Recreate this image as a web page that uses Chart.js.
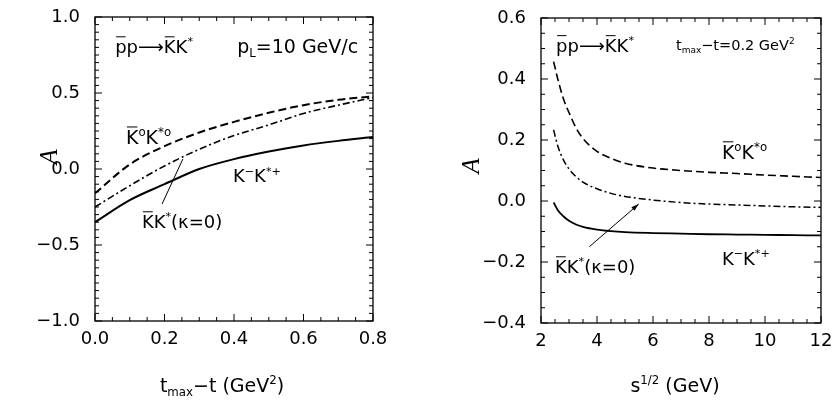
<!DOCTYPE html>
<html>
<head>
<meta charset="utf-8">
<script src="https://cdn.jsdelivr.net/npm/chart.js@4.4.1/dist/chart.umd.min.js"></script>
<style>
  html, body { margin: 0; padding: 0; background: #fff; }
  #wrap { position: relative; width: 832px; height: 403px; }
  .panel { position: absolute; top: 0; width: 416px; height: 403px; }
</style>
</head>
<body>
<div id="wrap">
  <div class="panel" style="left:0"><canvas id="leftCanvas" width="416" height="403"></canvas></div>
  <div class="panel" style="left:416px"><canvas id="rightCanvas" width="416" height="403"></canvas></div>
</div>
<script>
// ---- dados: painel esquerdo (p_L = 10 GeV/c), A vs t_max - t ----
const tValues       = [0, 0.1, 0.2, 0.3, 0.4, 0.5, 0.6, 0.7, 0.8];
const leftNeutralK  = [-0.16, 0.03, 0.15, 0.24, 0.31, 0.37, 0.42, 0.455, 0.478];
const leftKappaZero = [-0.25, -0.11, 0.02, 0.13, 0.22, 0.29, 0.365, 0.42, 0.47];
const leftChargedK  = [-0.35, -0.205, -0.1, 0.0, 0.065, 0.115, 0.155, 0.185, 0.21];
const leftXTicks = [0, 0.2, 0.4, 0.6, 0.8];
const leftYTicks = [-1, -0.5, 0, 0.5, 1];

// ---- dados: painel direito (t_max - t = 0.2 GeV^2), A vs sqrt(s) ----
const sValues        = [2.45, 2.6, 2.8, 3.0, 3.25, 3.5, 4, 4.5, 5, 6, 7, 8, 9, 10, 11, 12];
const rightNeutralK  = [0.457, 0.40, 0.335, 0.29, 0.24, 0.205, 0.163, 0.14, 0.124, 0.108, 0.1, 0.094, 0.09, 0.085, 0.081, 0.077];
const rightKappaZero = [0.233, 0.18, 0.135, 0.105, 0.08, 0.062, 0.04, 0.025, 0.015, 0.003, -0.005, -0.01, -0.013, -0.016, -0.019, -0.021];
const rightChargedK  = [-0.005, -0.03, -0.05, -0.065, -0.077, -0.085, -0.094, -0.099, -0.102, -0.105, -0.107, -0.109, -0.11, -0.111, -0.112, -0.113];
const rightXTicks = [2, 4, 6, 8, 10, 12];
const rightYTicks = [-0.4, -0.2, 0, 0.2, 0.4, 0.6];

const FONT = 'DejaVu Sans';

// texto com sobrescrito, subscrito e barra
function drawRich(ctx, x, y, parts, size, align) {
  const small = size * 0.62;
  const widths = parts.map(([t, k]) => {
    ctx.font = (k === 'sup' || k === 'sub' ? small : size) + 'px "' + FONT + '"';
    return ctx.measureText(t).width;
  });
  let cx = x;
  if (align === 'center') cx = x - widths.reduce((a, b) => a + b, 0) / 2;
  ctx.fillStyle = '#000';
  ctx.strokeStyle = '#000';
  ctx.textBaseline = 'alphabetic';
  ctx.textAlign = 'left';
  parts.forEach(([t, k], i) => {
    let dy = 0;
    if (k === 'sup') { ctx.font = small + 'px "' + FONT + '"'; dy = -size * 0.42; }
    else if (k === 'sub') { ctx.font = small + 'px "' + FONT + '"'; dy = size * 0.22; }
    else ctx.font = size + 'px "' + FONT + '"';
    ctx.fillText(t, cx, y + dy);
    if (k === 'bar') {
      ctx.lineWidth = 1;
      ctx.beginPath();
      const by = y - size * 0.9;
      ctx.moveTo(cx + 1, by);
      ctx.lineTo(cx + widths[i] - 1, by);
      ctx.stroke();
    }
    cx += widths[i];
  });
}

const framePlugin = {
  id: 'frame',
  afterDraw(chart, args, o) {
    const { ctx, chartArea: a, scales: { x, y } } = chart;
    ctx.save();
    ctx.strokeStyle = '#000';
    ctx.lineWidth = 1.3;
    ctx.strokeRect(a.left, a.top, a.right - a.left, a.bottom - a.top);

    // marcas para dentro, nos quatro lados
    ctx.lineWidth = 1;
    ctx.beginPath();
    const marks = (scale, minor, major, horiz) => {
      const n = Math.round((scale.max - scale.min) / minor);
      for (let i = 0; i <= n; i++) {
        const v = scale.min + i * minor;
        const r = (v - scale.min) / major;
        const len = Math.abs(r - Math.round(r)) < 1e-6 ? 7 : 4;
        const p = scale.getPixelForValue(v);
        if (horiz) {
          ctx.moveTo(p, a.bottom); ctx.lineTo(p, a.bottom - len);
          ctx.moveTo(p, a.top); ctx.lineTo(p, a.top + len);
        } else {
          ctx.moveTo(a.left, p); ctx.lineTo(a.left + len, p);
          ctx.moveTo(a.right, p); ctx.lineTo(a.right - len, p);
        }
      }
    };
    marks(x, o.xMinor, o.xMajor, true);
    marks(y, o.yMinor, o.yMajor, false);
    ctx.stroke();

    // rótulos das curvas
    o.labels.forEach(l => {
      drawRich(ctx, x.getPixelForValue(l.x), y.getPixelForValue(l.y), l.parts, l.size);
    });

    // linha indicadora
    const p = o.pointer;
    const x1 = x.getPixelForValue(p.from[0]), y1 = y.getPixelForValue(p.from[1]);
    const x2 = x.getPixelForValue(p.to[0]), y2 = y.getPixelForValue(p.to[1]);
    ctx.lineWidth = 1;
    ctx.beginPath();
    ctx.moveTo(x1, y1); ctx.lineTo(x2, y2);
    ctx.stroke();
    if (p.head) {
      const ang = Math.atan2(y2 - y1, x2 - x1);
      ctx.beginPath();
      ctx.moveTo(x2, y2);
      ctx.lineTo(x2 - 8 * Math.cos(ang - 0.3), y2 - 8 * Math.sin(ang - 0.3));
      ctx.lineTo(x2 - 8 * Math.cos(ang + 0.3), y2 - 8 * Math.sin(ang + 0.3));
      ctx.closePath();
      ctx.fillStyle = '#000';
      ctx.fill();
    }

    // títulos dos eixos
    drawRich(ctx, (a.left + a.right) / 2 + o.xTitle.dx, 392, o.xTitle.parts, 19, 'center');
    ctx.translate(o.yTitle.x, y.getPixelForValue(o.yTitle.y));
    ctx.rotate(-Math.PI / 2);
    ctx.font = 'italic 25px "Liberation Serif"';
    ctx.textAlign = 'center';
    ctx.textBaseline = 'middle';
    ctx.fillText('A', 0, 0);
    ctx.restore();
  }
};

const reaction = [['p', 'bar'], ['p'], ['\u27F6'], ['K', 'bar'], ['K'], ['*', 'sup']];
const neutralLabel = [['K', 'bar'], ['o', 'sup'], ['K'], ['*o', 'sup']];
const chargedLabel = [['K'], ['\u2212', 'sup'], ['K'], ['*+', 'sup']];
const kappaLabel = [['K', 'bar'], ['K'], ['*', 'sup'], ['(\u03BA=0)']];

function fmt(v, digits) {
  return (v < 0 ? '\u2212' : '') + Math.abs(v).toFixed(digits);
}

function makePanel(canvasId, xs, series, p) {
  const datasets = series.map(s => ({
    data: xs.map((v, i) => ({ x: v, y: s.values[i] })),
    borderColor: '#000',
    borderWidth: s.width,
    borderDash: s.dash,
    pointRadius: 0,
    cubicInterpolationMode: 'monotone',
    fill: false
  }));
  return new Chart(document.getElementById(canvasId), {
    type: 'line',
    data: { datasets },
    options: {
      responsive: false,
      animation: false,
      events: [],
      layout: { padding: { top: p.top, right: p.right, left: 0, bottom: 0 } },
      plugins: {
        legend: { display: false },
        tooltip: { enabled: false },
        frame: p.frame
      },
      scales: {
        x: {
          type: 'linear',
          min: p.xMin, max: p.xMax,
          grid: { display: false, drawTicks: false },
          border: { display: false },
          afterBuildTicks: s => { s.ticks = p.xTicks.map(v => ({ value: v })); },
          afterFit: s => { s.height = p.xHeight; s.paddingLeft = 0; s.paddingRight = 0; },
          ticks: {
            autoSkip: false, maxRotation: 0, padding: 8, color: '#000',
            font: { family: FONT, size: 18 },
            callback: v => fmt(v, p.xDigits)
          }
        },
        y: {
          type: 'linear',
          min: p.yMin, max: p.yMax,
          grid: { display: false, drawTicks: false },
          border: { display: false },
          afterBuildTicks: s => { s.ticks = p.yTicks.map(v => ({ value: v })); },
          afterFit: s => { s.width = p.yWidth; s.paddingTop = 0; s.paddingBottom = 0; },
          ticks: {
            autoSkip: false, padding: 15, color: '#000',
            font: { family: FONT, size: 18 },
            callback: v => fmt(v, 1)
          }
        }
      }
    },
    plugins: [framePlugin]
  });
}

makePanel('leftCanvas', tValues, [
  { values: leftNeutralK, width: 2, dash: [8, 4] },
  { values: leftKappaZero, width: 1.6, dash: [7, 3, 2, 3] },
  { values: leftChargedK, width: 2, dash: [] }
], {
  top: 17, right: 43, xHeight: 82, yWidth: 95,
  xMin: 0, xMax: 0.8, yMin: -1, yMax: 1,
  xTicks: leftXTicks, yTicks: leftYTicks, xDigits: 1,
  frame: {
    xMinor: 0.05, xMajor: 0.2, yMinor: 0.05, yMajor: 0.5,
    labels: [
      { x: 0.058, y: 0.763, size: 18, parts: reaction },
      { x: 0.409, y: 0.763, size: 19, parts: [['p'], ['L', 'sub'], ['=10 GeV/c']] },
      { x: 0.089, y: 0.164, size: 19, parts: neutralLabel },
      { x: 0.397, y: -0.086, size: 18, parts: chargedLabel },
      { x: 0.135, y: -0.388, size: 18, parts: kappaLabel }
    ],
    pointer: { from: [0.193, -0.23], to: [0.253, 0.066], head: false },
    xTitle: { dx: -12, parts: [['t'], ['max', 'sub'], ['\u2212t (GeV'], ['2', 'sup'], [')']] },
    yTitle: { x: 50, y: 0.08 }
  }
});

makePanel('rightCanvas', sValues, [
  { values: rightNeutralK, width: 1.6, dash: [8, 4] },
  { values: rightKappaZero, width: 1.5, dash: [7, 3, 2, 3] },
  { values: rightChargedK, width: 1.8, dash: [] }
], {
  top: 18, right: 11, xHeight: 80, yWidth: 125,
  xMin: 2, xMax: 12, yMin: -0.4, yMax: 0.6,
  xTicks: rightXTicks, yTicks: rightYTicks, xDigits: 0,
  frame: {
    xMinor: 0.5, xMajor: 2, yMinor: 0.05, yMajor: 0.2,
    labels: [
      { x: 2.54, y: 0.489, size: 18, parts: reaction },
      { x: 6.82, y: 0.495, size: 14.5, parts: [['t'], ['max', 'sub'], ['\u2212t=0.2 GeV'], ['2', 'sup']] },
      { x: 8.46, y: 0.138, size: 19, parts: neutralLabel },
      { x: 8.46, y: -0.21, size: 18, parts: chargedLabel },
      { x: 2.5, y: -0.236, size: 18, parts: kappaLabel }
    ],
    pointer: { from: [3.725, -0.15], to: [5.49, -0.01], head: true },
    xTitle: { dx: -6, parts: [['s'], ['1/2', 'sup'], [' (GeV)']] },
    yTitle: { x: 56, y: 0.115 }
  }
});
</script>
</body>
</html>
